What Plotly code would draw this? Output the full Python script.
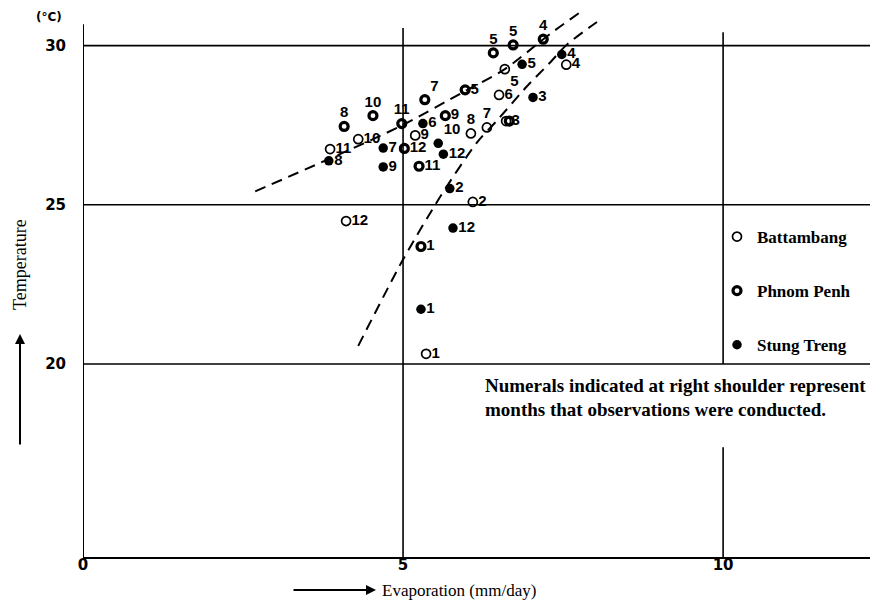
import plotly.graph_objects as go

# ---------------- data ----------------
# Battambang (open circles)
bt_month = [1, 2, 3, 4, 5, 6, 7, 8, 9, 10, 11, 12]
bt_evap = [5.36, 6.09, 6.61, 7.55, 6.59, 6.50, 6.31, 6.06, 5.19, 4.30, 3.86, 4.11]
bt_temp = [20.32, 25.09, 27.63, 29.40, 29.26, 28.45, 27.43, 27.24, 27.18, 27.06, 26.75, 24.49]

# Phnom Penh (half-filled circles)
pp_month = [1, 3, 4, 5, 5, 5, 7, 8, 9, 10, 11, 12, 11]
pp_evap = [5.28, 6.66, 7.19, 6.41, 6.72, 5.97, 5.34, 4.08, 5.66, 4.53, 4.98, 5.02, 5.25]
pp_temp = [23.69, 27.63, 30.20, 29.77, 30.02, 28.61, 28.30, 27.46, 27.80, 27.80, 27.55, 26.77, 26.21]

# Stung Treng (filled circles)
st_month = [1, 2, 3, 4, 5, 6, 7, 8, 9, 10, 12, 12]
st_evap = [5.28, 5.73, 7.03, 7.48, 6.86, 5.31, 4.69, 3.84, 4.69, 5.55, 5.63, 5.78]
st_temp = [21.72, 25.51, 28.37, 29.72, 29.41, 27.55, 26.78, 26.38, 26.19, 26.93, 26.59, 24.27]

# dashed trend curves
curve_a_evap = [2.69, 4.09, 4.98, 5.94, 6.59, 7.30, 7.77]
curve_a_temp = [25.42, 26.66, 27.49, 28.54, 29.26, 30.37, 31.05]
curve_b_evap = [4.30, 5.00, 5.58, 6.16, 6.47, 6.94, 7.27, 7.56, 8.03]
curve_b_temp = [20.57, 23.28, 25.25, 26.97, 27.65, 28.73, 29.41, 30.03, 30.74]

x_ticks = [0, 5, 10]
y_ticks = [20, 25, 30]

# label placement (style only)
bt_pos = ["middle right", "middle right", "middle right", "middle right", "bottom right",
          "middle right", "top center", "top center", "middle right", "middle right",
          "middle right", "middle right"]
pp_pos = ["middle right", "middle right", "top center", "top center", "top center",
          "middle right", "top right", "top center", "middle right", "top center",
          "top center", "middle right", "middle right"]
st_pos = ["middle right", "middle right", "middle right", "middle right", "middle right",
          "middle right", "middle right", "middle right", "middle right", "top right",
          "middle right", "middle right"]
# the Phnom Penh "3" sits under the Battambang "3": the numeral is printed once
pp_show = [True, False] + [True] * (len(pp_month) - 2)

# ---------------- figure ----------------
# the page adds an 8 px body margin, so the figure is 8 px smaller each way
W, H = 870, 595
L, R, T, B = 75, 0, 0, 46
PW, PH = W - L - R, H - T - B
X_MAX = 12.42
Y_MIN, Y_MAX = 13.94, 31.18
SERIF = "Liberation Serif"
LBL_FONT = dict(family="Liberation Sans", size=15, color="black", weight="bold")


def px(xp):  # page pixel -> paper x
    return (xp - 8 - L) / PW


def py(yp):  # page pixel -> paper y
    return (PH - (yp - 8 - T)) / PH


fig = go.Figure()

for cx, cy in [(curve_a_evap, curve_a_temp), (curve_b_evap, curve_b_temp)]:
    fig.add_trace(go.Scatter(x=cx, y=cy, mode="lines", showlegend=False, hoverinfo="skip",
                             line=dict(color="black", width=2, dash="11px,7px", shape="spline",
                                       smoothing=0.8)))

stations = [
    ("Battambang", bt_evap, bt_temp, [str(m) for m in bt_month], bt_pos,
     dict(symbol="circle-open", size=9, color="black", line=dict(width=1.7, color="black"))),
    ("Phnom Penh", pp_evap, pp_temp,
     [str(m) if s else "" for m, s in zip(pp_month, pp_show)], pp_pos,
     dict(symbol="circle-open", size=8, color="black", line=dict(width=3.2, color="black"))),
    ("Stung Treng", st_evap, st_temp, [str(m) for m in st_month], st_pos,
     dict(symbol="circle", size=9.5, color="black", line=dict(width=0))),
]
# month numerals (invisible markers keep the numeral clear of the point)
for name, ex, ty, txt, pos, mk in stations:
    fig.add_trace(go.Scatter(x=ex, y=ty, mode="markers+text", text=txt,
                             textposition=pos, textfont=LBL_FONT,
                             marker=dict(size=7, color="rgba(0,0,0,0)"),
                             showlegend=False, hoverinfo="skip", cliponaxis=False))
for name, ex, ty, txt, pos, mk in stations:
    fig.add_trace(go.Scatter(x=ex, y=ty, mode="markers", name=name, marker=mk,
                             legendgroup=name, cliponaxis=False))

line_style = dict(color="black", width=1.6)
shapes = [
    dict(type="line", xref="x", yref="y", x0=0, x1=0, y0=Y_MIN, y1=30.67,
         line=dict(color="black", width=2)),
    dict(type="line", xref="paper", yref="y", x0=0, x1=1, y0=30, y1=30, line=line_style),
    dict(type="line", xref="paper", yref="y", x0=0, x1=1, y0=25, y1=25, line=line_style),
    dict(type="line", xref="paper", yref="y", x0=0, x1=1, y0=20, y1=20, line=line_style),
    dict(type="line", xref="x", yref="y", x0=5, x1=5, y0=Y_MIN, y1=30.55, line=line_style),
    dict(type="line", xref="x", yref="y", x0=10, x1=10, y0=20, y1=30.42, line=line_style),
    dict(type="line", xref="x", yref="y", x0=10, x1=10, y0=Y_MIN, y1=17.39, line=line_style),
]

ann = [
    dict(x=px(49), y=py(17), text="(°C)",
         font=dict(family="DejaVu Sans", size=12, color="black", weight="bold")),
    dict(x=px(20), y=py(265), text="Temperature", textangle=-90,
         font=dict(family=SERIF, size=18, color="black")),
    dict(x=px(20), y=py(334), text="", showarrow=True, ax=0, ay=112,
         arrowhead=2, arrowsize=1, arrowwidth=2, arrowcolor="black"),
    dict(x=px(459), y=py(590), text="Evaporation (mm/day)",
         font=dict(family=SERIF, size=17, color="black")),
    dict(x=px(376), y=py(590), text="", showarrow=True, ax=-84, ay=0,
         arrowhead=2, arrowsize=1, arrowwidth=2, arrowcolor="black"),
    dict(x=px(483), y=py(385), xanchor="left",
         text="Numerals indicated at right shoulder represent",
         font=dict(family=SERIF, size=19, color="black", weight="bold")),
    dict(x=px(483), y=py(410), xanchor="left",
         text="months that observations were conducted.",
         font=dict(family=SERIF, size=19, color="black", weight="bold")),
]
for a in ann:
    a.setdefault("xref", "paper")
    a.setdefault("yref", "paper")
    a.setdefault("showarrow", False)
    a.setdefault("xanchor", "center")
    a.setdefault("yanchor", "middle")

TICK_FONT = dict(family="DejaVu Sans", size=15, color="black", weight="bold")
fig.update_layout(
    width=W, height=H, margin=dict(l=L, r=R, t=T, b=B, autoexpand=False),
    plot_bgcolor="white", paper_bgcolor="white",
    shapes=shapes, annotations=ann,
    legend=dict(x=(709 - L) / PW, y=(PH - 211) / PH, xanchor="left", yanchor="top",
                font=dict(family=SERIF, size=17, color="black", weight="bold"),
                tracegroupgap=29, itemwidth=30, bgcolor="rgba(0,0,0,0)"),
    xaxis=dict(range=[0, X_MAX], tickvals=x_ticks, ticktext=[str(v) for v in x_ticks],
               showgrid=False, zeroline=False, showline=True, linecolor="black", linewidth=2,
               ticks="", ticklabelstandoff=-7, tickfont=TICK_FONT),
    yaxis=dict(range=[Y_MIN, Y_MAX], tickvals=y_ticks, ticktext=[str(v) for v in y_ticks],
               showgrid=False, zeroline=False, showline=False, ticks="", ticklabelstandoff=16,
               tickfont=TICK_FONT),
)

fig.write_html("out.html")
